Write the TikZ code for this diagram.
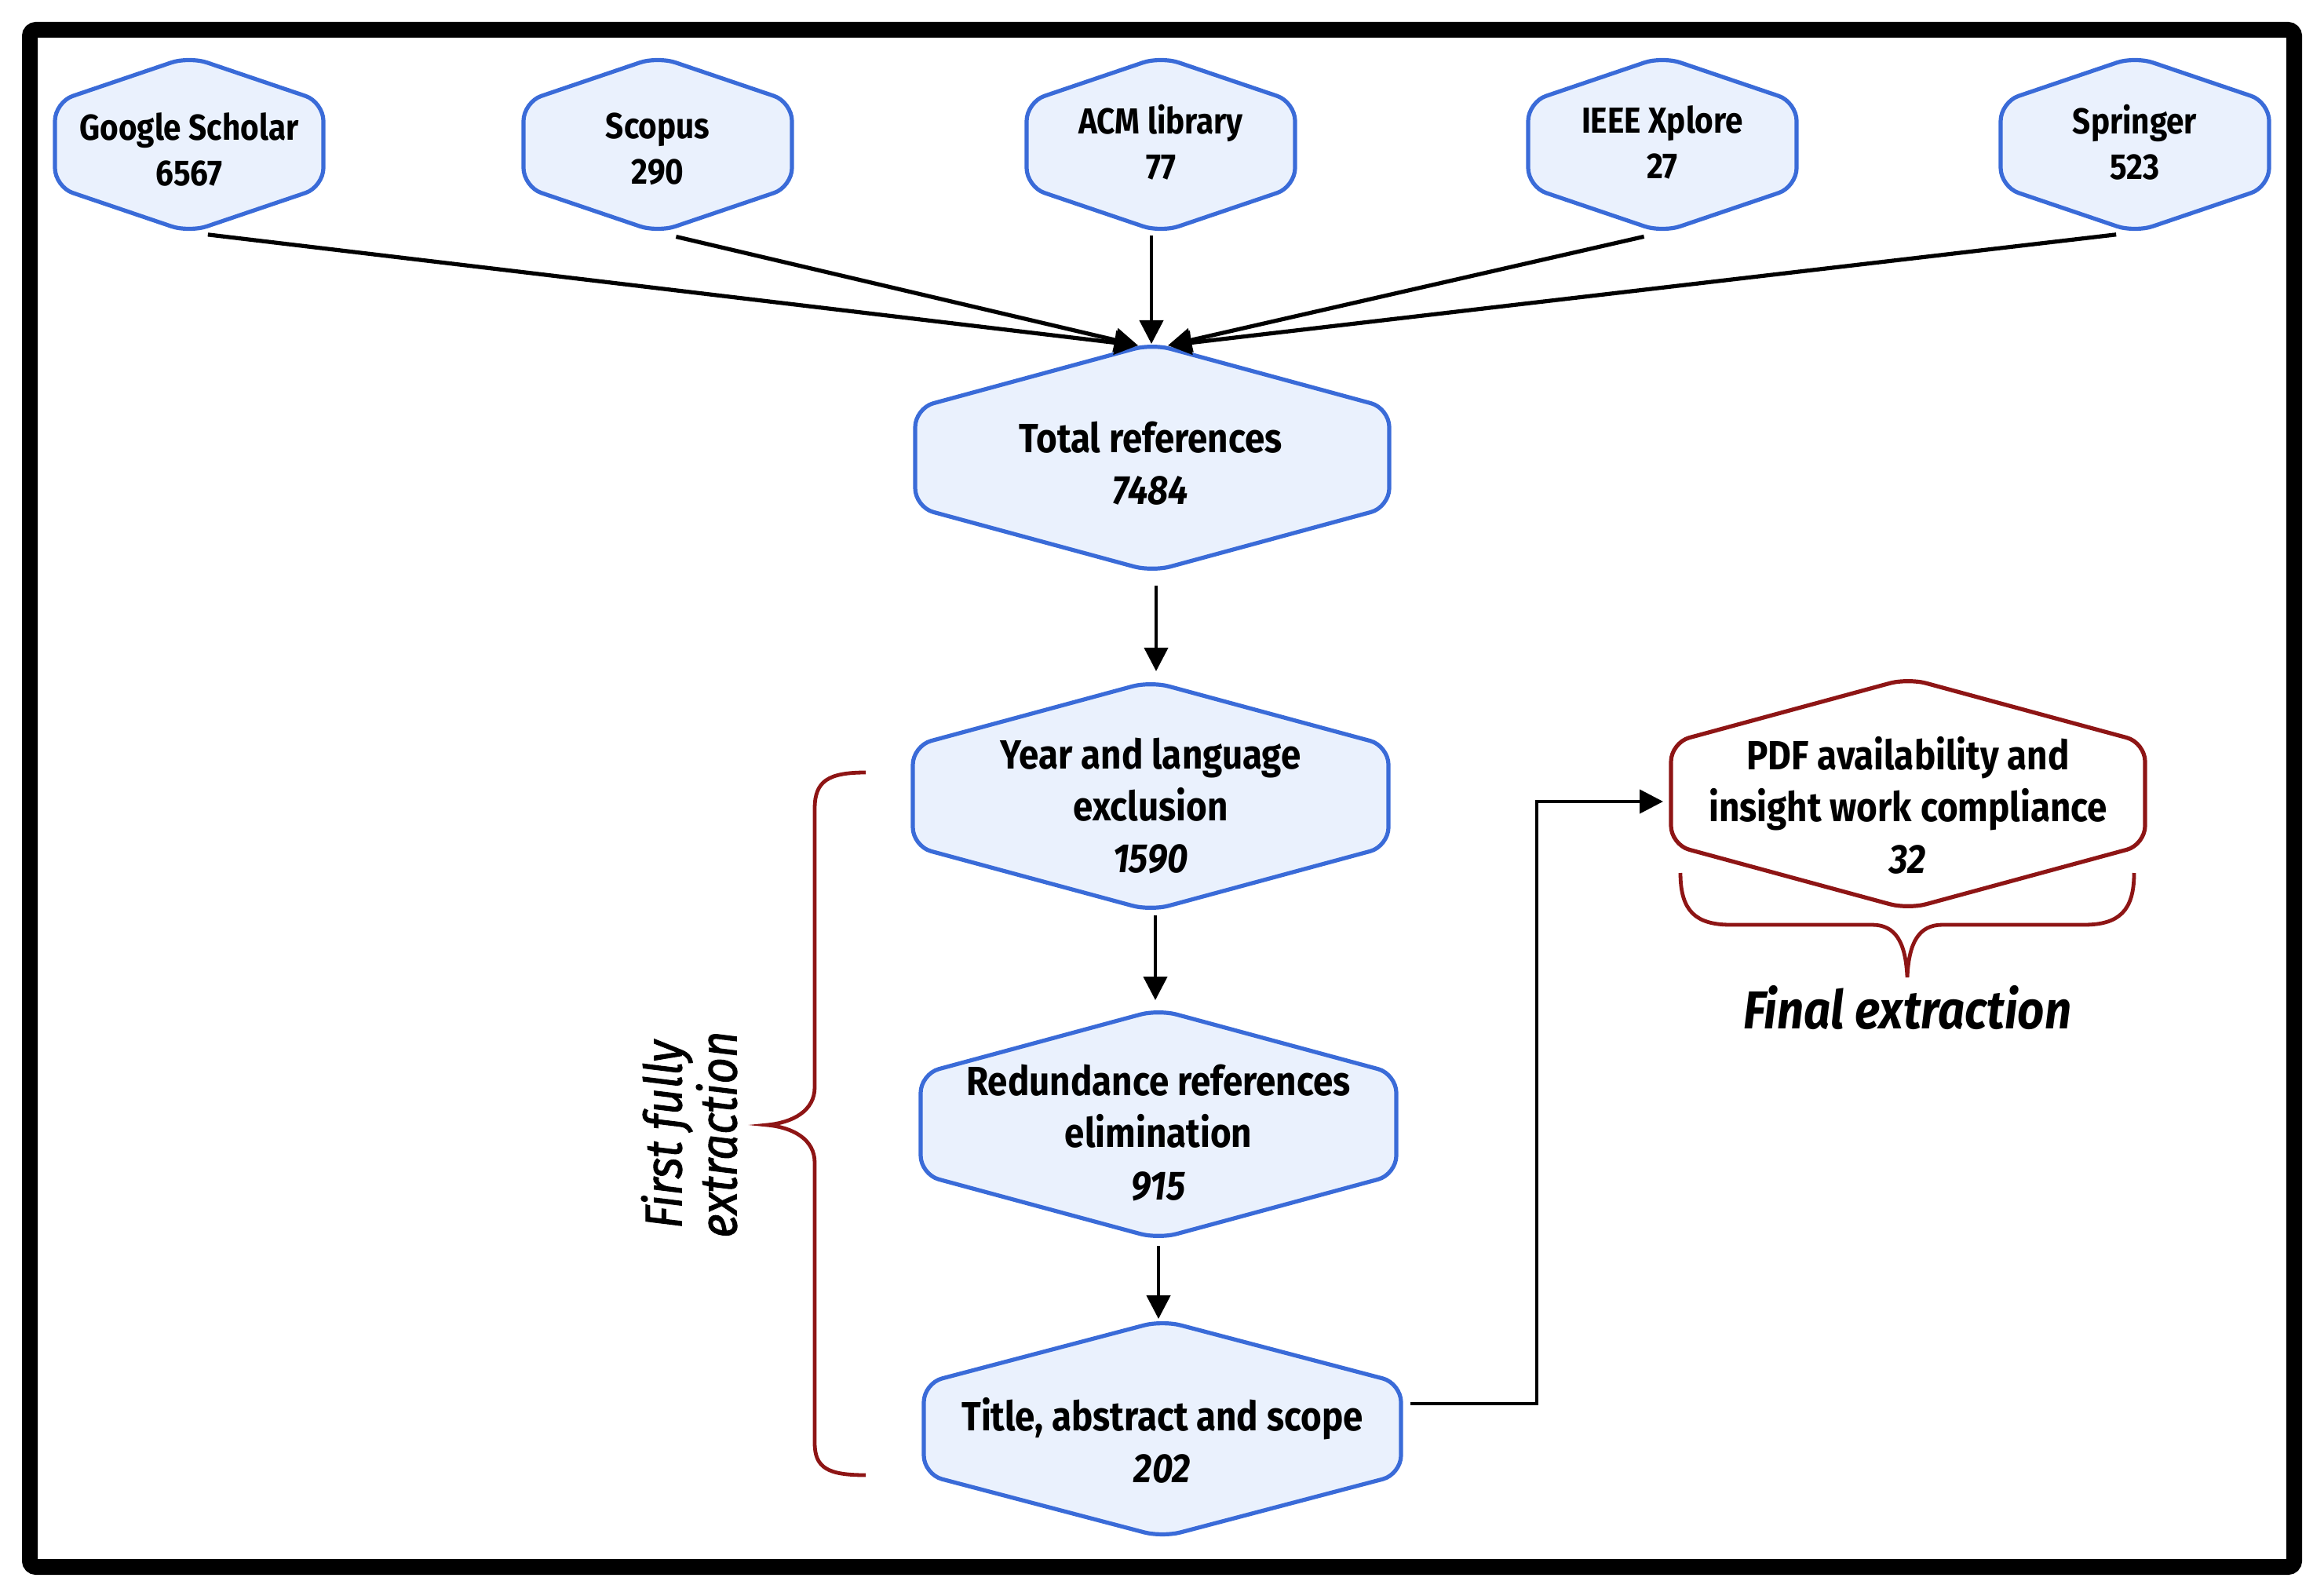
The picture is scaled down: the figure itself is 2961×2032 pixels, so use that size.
\documentclass[tikz,border=0pt]{standalone}
\usepackage{fontspec}
\setmainfont{Fira Sans}[FakeStretch=0.88]
\newfontfamily\medfont{Fira Sans}[FakeStretch=0.88, FakeBold=1.5]
\usetikzlibrary{arrows.meta,calc}
\definecolor{hexblue}{HTML}{3A6BD8}
\definecolor{hexfill}{HTML}{EAF1FD}
\definecolor{bracered}{HTML}{8E1515}
\newcommand\hexshape[7]{%
  \path[#7] (#2,#3-#5) -- (#2+#4,#3-#5+#6) -- (#2+#4,#3+#5-#6) -- (#2,#3+#5)
     -- (#2-#4,#3+#5-#6) -- (#2-#4,#3-#5+#6) -- cycle;
  \coordinate (#1-n) at (#2,#3-#5);
  \coordinate (#1-s) at (#2,#3+#5);
  \coordinate (#1-e) at (#2+#4,#3);
  \coordinate (#1-w) at (#2-#4,#3);
}
\tikzset{
  hexbox/.style={draw=hexblue, fill=hexfill, line width=1.3pt, rounded corners=6pt},
  redbox/.style={draw=bracered, fill=white, line width=1.3pt, rounded corners=6pt},
  smalltxt/.style={inner sep=0pt, align=center, font=\fontsize{11.5}{14.5}\selectfont\bfseries},
  bigtxt/.style={inner sep=0pt, align=center, font=\fontsize{13}{16.5}\selectfont\bfseries},
  arr/.style={line width=1.1pt, -{Triangle[width=7.5pt,length=7.5pt]}},
  toparr/.style={line width=1.3pt, -{Triangle[width=7.5pt,length=7.5pt]}},
  brace/.style={draw=bracered, line width=1.2pt},
}
\begin{document}
\begin{tikzpicture}[x=0.25pt,y=-0.25pt]
\useasboundingbox (0,0) rectangle (2961,2032);
\draw[line width=5pt, rounded corners=2pt] (38,38) rectangle (2923,1996);

% top row
\hexshape{gs}{241}{184}{171}{112}{58}{hexbox}
\hexshape{sc}{838}{184}{171}{112}{58}{hexbox}
\hexshape{acm}{1479}{184}{171}{112}{58}{hexbox}
\hexshape{ieee}{2118}{184}{171}{112}{58}{hexbox}
\hexshape{spr}{2720}{184}{171}{112}{58}{hexbox}
\node[smalltxt] (gst) at (241,190) {Google Scholar\\6567};
\node[smalltxt] (sct) at (838,190) {Scopus\\290};
\node[smalltxt] (acmt) at (1479,181) {ACM library\\77};
\node[smalltxt] (ieeet) at (2118,181) {IEEE Xplore\\27};
\node[smalltxt] (sprt) at (2720,181) {Springer\\523};

% main column
\hexshape{tot}{1468}{583}{302}{145}{82}{hexbox}
\node[bigtxt] (tott) at (1466,590) {Total references\\\textit{7484}};
\hexshape{yr}{1466}{1014}{303}{146}{82}{hexbox}
\node[bigtxt] (yrt) at (1466,1027) {Year and language\\exclusion\\\textit{1590}};
\hexshape{red}{1476}{1432}{303}{146}{82}{hexbox}
\node[bigtxt] (redt) at (1476,1443) {Redundance references\\elimination\\\textit{915}};
\hexshape{ttl}{1481}{1820}{304}{138}{80}{hexbox}
\node[bigtxt] (ttlt) at (1481,1835) {Title, abstract and scope\\\textit{202}};

% final box
\hexshape{pdf}{2431}{1011}{302}{147}{82}{redbox}
\node[bigtxt] (pdft) at (2431,1026) {PDF availability and\\insight work compliance\\\textit{32}};

% converging arrows
\coordinate (tin1) at (1450,440);
\coordinate (tin2) at (1467,438);
\coordinate (tin3) at (1488,440);
\draw[toparr, shorten <=6pt] (gs-s) -- (tin1);
\draw[toparr, shorten <=6pt] (sc-s) -- (tin1);
\draw[arr, shorten <=1pt] (acm-s -| tin2) -- (tin2);
\draw[toparr, shorten <=6pt] (ieee-s) -- (tin3);
\draw[toparr, shorten <=6pt] (spr-s) -- (tin3);

% column arrows
\draw[arr] ($(tot-s)+(5,18)$) -- ($(yr-n)+(7,-13)$);
\draw[arr] ($(yr-s)+(6,6)$) -- ($(red-n)+(-4,-12)$);
\draw[arr] ($(red-s)+(0,9)$) -- ($(ttl-n)+(-5,-2)$);

% title -> pdf
\coordinate (tout) at ($(ttl-e)+(12,-32)$);
\coordinate (pin) at ($(pdf-w)+(-10,10)$);
\draw[arr] (tout) -| ($(pin)+(-161,0)$) -- (pin);

% braces
\draw[brace] (1103,984) .. controls (1055,984) and (1038,995) .. (1038,1030)
  -- (1038,1385) .. controls (1038,1415) and (1010,1430) .. (977,1433)
  .. controls (1010,1436) and (1038,1451) .. (1038,1481)
  -- (1038,1838) .. controls (1038,1870) and (1055,1879) .. (1103,1879);
\draw[brace] (2141,1112) .. controls (2141,1160) and (2160,1178) .. (2205,1178)
  -- (2385,1178) .. controls (2415,1178) and (2428,1200) .. (2430,1245)
  .. controls (2432,1200) and (2445,1178) .. (2475,1178)
  -- (2655,1178) .. controls (2700,1178) and (2719,1160) .. (2719,1112);

\node[inner sep=0pt, font=\fontsize{17}{20}\selectfont\bfseries\itshape] (fin) at (2430,1284) {Final extraction};
\node[inner sep=0pt, align=center, rotate=90, font=\medfont\fontsize{16.5}{17.5}\selectfont\itshape] (first) at (878,1445) {First fully\\extraction};
\end{tikzpicture}
\end{document}
